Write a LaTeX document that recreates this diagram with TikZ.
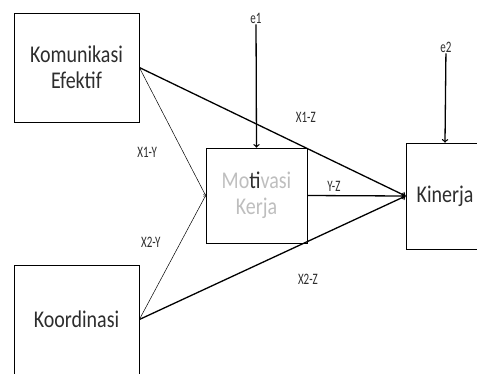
\documentclass[tikz,border=0pt]{standalone}
\usepackage{fontspec}
\usepackage{graphicx}
\setmainfont{Carlito}
\usetikzlibrary{arrows,positioning}

\definecolor{fadedtext}{RGB}{190,190,190}
\definecolor{boxtext}{RGB}{45,45,45}
\newcommand{\tall}[1]{\scalebox{1}[1.2]{#1}}
\newcommand{\taller}[1]{\scalebox{1}[1.45]{#1}}

\begin{document}
\begin{tikzpicture}[x=1pt,y=-1pt,>=to,auto,
		var/.style={rectangle,draw=black,line width=0.7pt,inner sep=0pt,text=boxtext,align=center,font=\fontsize{20}{26}\selectfont},
		lbl/.style={font=\fontsize{11}{13}\selectfont,inner sep=1pt,text=boxtext},
		weak/.style={->,line width=0.5pt},
		strong/.style={->,line width=1.3pt}]
		\useasboundingbox (0,0) rectangle (477,373);
		\node[var,minimum width=125pt,minimum height=109pt] (ke)  at (76.5,67.5)  {\tall{Komunikasi}\\\tall{Efektif}};
		\node[var,minimum width=125pt,minimum height=109pt] (ko)  at (76.5,319.5) {\tall{Koordinasi}};
		\node[var,minimum width=101pt,minimum height=95pt]  (mk)  at (256.5,195.5) {\tall{\textcolor{fadedtext}{Mo}ti\textcolor{fadedtext}{vasi}}\\\tall{\textcolor{fadedtext}{Kerja}}};
		\node[var,minimum width=78pt,minimum height=106pt]  (kin) at (445,196)   {\tall{Kinerja}};
		\node[lbl] (e1) at (256,18) {\taller{e1}};
		\node[lbl] (e2) at (446,47) {\taller{e2}};
		
		\path
		(ke.east) edge[weak] node[lbl,pos=0.66,left=25pt] {\taller{X1-Y}} (mk.west)
		(ko.east) edge[weak] node[lbl,pos=0.625,left=19pt] {\taller{X2-Y}} (mk.west)
		(ke.east) edge[strong] node[lbl,pos=0.625,above=24pt] {\taller{X1-Z}} (kin.west)
		(ko.east) edge[strong] node[lbl,pos=0.633,below=31pt] {\taller{X2-Z}} (kin.west)
		(mk.east) edge[strong] node[lbl,pos=0.27,above=2pt] {\taller{Y-Z}} (kin.west)
		(e1) edge[strong] (mk.north)
		(e2) edge[strong] (kin.north);
\end{tikzpicture}
\end{document}
